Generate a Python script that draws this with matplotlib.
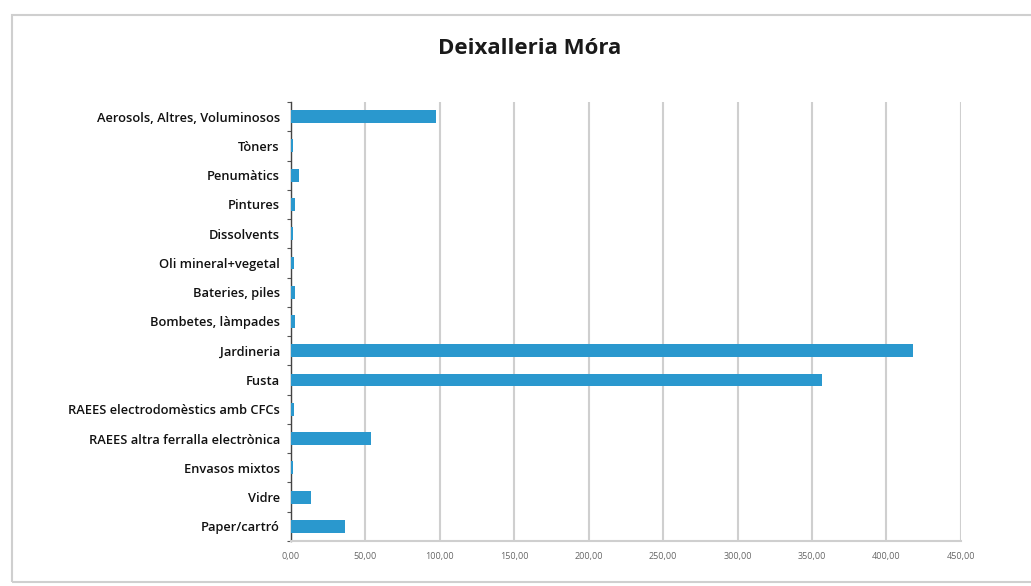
import numpy as np
import matplotlib.pyplot as plt
from matplotlib.patches import Rectangle

# categories from top to bottom as shown in the chart
categories = ['Aerosols, Altres, Voluminosos', 'Tòners', 'Penumàtics', 'Pintures',
              'Dissolvents', 'Oli mineral+vegetal', 'Bateries, piles', 'Bombetes, làmpades',
              'Jardineria', 'Fusta', 'RAEES electrodomèstics amb CFCs',
              'RAEES altra ferralla electrònica', 'Envasos mixtos', 'Vidre', 'Paper/cartró']
values = [97.5, 1.3, 5.5, 3.0, 1.5, 2.0, 3.0, 3.0, 418.0, 357.0, 2.3, 53.8, 1.2, 13.2, 36.3]
xticks = np.arange(0, 451, 50)
xtick_labels = ['%.2f' % v for v in xticks]
xtick_labels = [s.replace('.', ',') for s in xtick_labels]

plt.rcParams['font.family'] = ['Open Sans', 'DejaVu Sans']

fig = plt.figure(figsize=(10.31, 5.86), dpi=100)
ax = fig.add_axes([0.2822, 0.0768, 0.6498, 0.7492])

y = np.arange(len(categories))
ax.barh(y, values, height=0.44, color='#2A98CE', zorder=3)

ax.set_ylim(len(categories) - 0.5, -0.5)
ax.set_xlim(0, 450)
ax.set_yticks(y)
ax.set_yticklabels(categories, fontsize=9.3, color='#111111', fontweight='semibold')
ax.set_yticks(np.arange(-0.5, len(categories), 1), minor=True)
ax.tick_params(axis='y', which='major', length=0, pad=8)
ax.tick_params(axis='y', which='minor', length=3, color='#555555', width=0.8)

ax.set_xticks(xticks)
ax.set_xticklabels(xtick_labels, fontsize=6.5, color='#666666')
ax.tick_params(axis='x', length=0, pad=8)

ax.grid(axis='x', color='#CFCFCF', linewidth=1.5, zorder=0)
for side in ['top', 'right']:
    ax.spines[side].set_visible(False)
ax.spines['left'].set_color('#444444')
ax.spines['left'].set_linewidth(1.0)
ax.spines['bottom'].set_color('#CFCFCF')
ax.spines['bottom'].set_linewidth(1.5)

fig.text(0.514, 0.918, 'Deixalleria Móra', ha='center', va='center',
         fontsize=16, fontweight='bold', color='#1A1A1A')

# outer chart frame
fig.patches.append(Rectangle((12 / 1031, 4 / 586), 1.2, 1 - 19 / 586,
                             transform=fig.transFigure, fill=False,
                             edgecolor='#CFCFCF', linewidth=1.5))

fig.savefig('out.png', dpi=100)
